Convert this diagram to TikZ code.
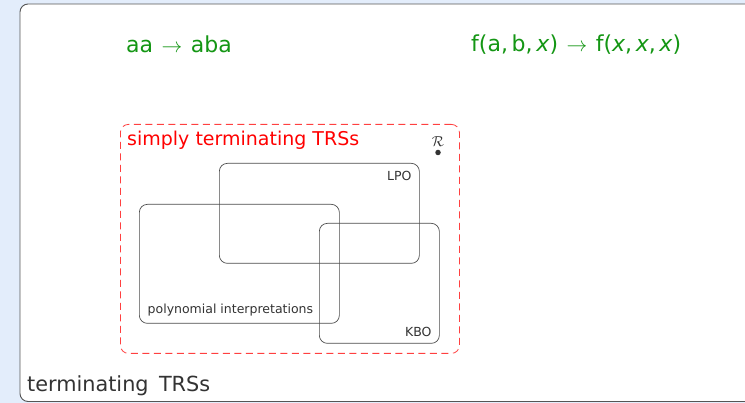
\documentclass[tikz,border=0pt]{standalone}
\usepackage{fontspec}
\setmainfont{DejaVu Sans}
\usetikzlibrary{positioning,calc}
\definecolor{slidebg}{RGB}{227,237,251}
\definecolor{rulegreen}{RGB}{20,150,20}
\definecolor{framegray}{RGB}{85,85,85}
\newcommand{\rulearrow}{\hspace{1.5pt}$\to$\hspace{1.5pt}}

\begin{document}
\begin{tikzpicture}[x=1pt,y=-1pt,
    setbox/.style={draw=black!70, line width=0.7pt, rounded corners=8pt, inner sep=0pt, anchor=north west},
    setlabel/.style={inner sep=0pt, text=black!80, font=\fontsize{12.5}{15}\selectfont},
    rule/.style={inner sep=0pt, anchor=base west, text=rulegreen, font=\fontsize{22}{26}\selectfont}]

                \useasboundingbox (0,0) rectangle (745,403);
                \fill[slidebg] (0,0) rectangle (745,403);
                \draw[framegray, fill=white, line width=0.9pt, rounded corners=8pt] (20,4) rectangle (770,401.5);

                % the two rules
                \node[rule] (aarule) at (126,52.5) {aa \rulearrow{} aba};
                \node[rule] (frule) at (471,52) {f(a,\,b,\,\textit{x}) \rulearrow{} f(\textit{x},\,\textit{x},\,\textit{x})};

                % simply terminating
                \node[draw=red!75, dashed, dash pattern=on 7pt off 4.5pt, line width=0.8pt, rounded corners=8pt,
                      inner sep=0pt, anchor=north west, minimum width=339pt, minimum height=229pt] (simple) at (120,124) {};
                \node[anchor=base west, inner sep=0pt, text=red, font=\fontsize{19}{22}\selectfont] (simplelabel) at (127,146) {simply terminating TRSs};

                \node[circle, fill=black!80, inner sep=0pt, minimum size=5.5pt] (rdot) at (438,152.5) {};
                \node[above=3pt of rdot, inner sep=0pt, text=black!80, font=\fontsize{15}{18}\selectfont] (rname) {$\mathcal{R}$};

                \foreach \n/ \x/ \y/ \w/ \h in {lpo/219/163/200/100, poly/139/204/200/119, kbo/319/223/120/120}{
                    \node[setbox, minimum width=\w pt, minimum height=\h pt] (\n) at (\x,\y) {};
                }

                \node[setlabel, anchor=north east] (lpolabel) at ($(lpo.north east)+(-8,8)$) {LPO};
                \node[setlabel, anchor=base west] (polylabel) at ($(poly.south west)+(8.5,-10)$) {polynomial interpretations};
                \node[setlabel, anchor=base east] (kbolabel) at ($(kbo.south east)+(-8,-7.5)$) {KBO};

                \node[anchor=base west, inner sep=0pt, text=black!80, font=\fontsize{20.8}{24}\selectfont] (termlabel) at (27,391.5) {terminating\enspace TRSs};

        \end{tikzpicture}
\end{document}
